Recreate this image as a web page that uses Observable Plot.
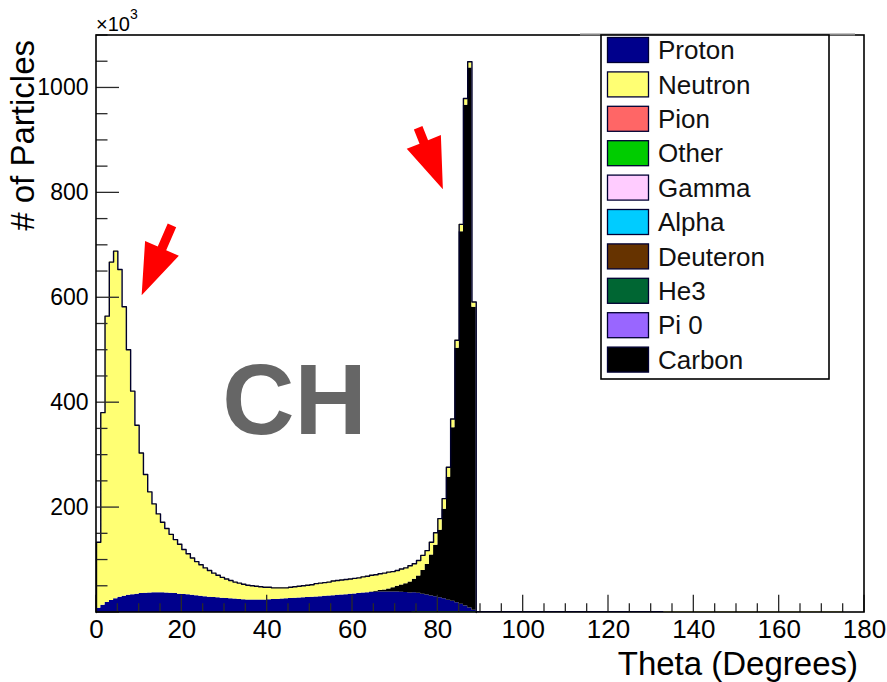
<!DOCTYPE html>
<html>
<head>
<meta charset="utf-8">
<script src="https://cdn.jsdelivr.net/npm/d3@7"></script>
<script src="https://cdn.jsdelivr.net/npm/@observablehq/plot@0.6"></script>
<style>
  html, body { margin: 0; padding: 0; background: #fff; }
  #chart svg { display: block; }
</style>
</head>
<body>
<div id="chart"></div>
<script>
// ---------- data (thousands of particles per 1-degree bin, bins 0..179) ----------
const particles = ["Proton", "Neutron", "Pion", "Other", "Gamma", "Alpha", "Deuteron", "He3", "Pi 0", "Carbon"];
const colors    = ["#00008c", "#ffff73", "#ff6666", "#00cc00", "#ffccff", "#00ccff", "#663300", "#006633", "#9966ff", "#000000"];
const stackOrder = ["Other", "Proton", "Carbon", "Neutron"];

const proton = [
  8, 14, 19, 23, 26, 29, 31, 33, 34, 35,
  36, 36.5, 37, 37.5, 37.5, 37.5, 37, 36.5, 36, 35,
  34.5, 34, 33, 32, 31, 30, 29, 28.5, 28, 27,
  26.5, 26, 25.5, 25, 24.5, 24, 24, 24, 24, 24,
  24.5, 25, 25, 25.5, 26, 26.5, 27, 27.5, 28, 28.5,
  29, 29.5, 30, 31, 31.5, 32, 33, 33.5, 34, 35,
  35.5, 36, 37, 37.5, 38, 38.5, 39, 39, 39, 39,
  39, 38.5, 38, 37, 36, 35, 33.5, 32, 30, 28.5,
  26.5, 24.5, 22, 20, 17, 14, 11, 7, 3, 2,
  2, 2, 2, 2, 2, 2, 2, 2, 2, 2,
  2, 2, 2, 2, 2, 2, 2, 2, 2, 2,
  2, 2, 2, 2, 2, 2, 2, 2, 2, 2,
  2, 2, 2, 2, 2, 2, 2, 2, 2, 2,
  2, 2, 2, 0, 0, 0, 0, 0, 0, 0,
  0, 0, 0, 0, 0, 0, 0, 0, 0, 0,
  0, 0, 0, 0, 0, 0, 0, 0, 0, 0,
  0, 0, 0, 0, 0, 0, 0, 0, 0, 0,
  0, 0, 0, 0, 0, 0, 0, 0, 0, 0
];
const neutron = [
  126, 367, 546, 645, 663, 625, 552, 468, 388, 322,
  268, 226.5, 193, 169.5, 150.5, 134.5, 123, 112.5, 103, 95,
  85.5, 78, 71, 65, 60, 55, 51, 46.5, 43, 40,
  37.5, 35, 32.5, 31, 29.5, 28, 27, 26, 25, 24,
  23.5, 22, 22, 21.5, 21, 21.5, 22, 22.5, 23, 23.5,
  24, 25.5, 26, 26, 26.5, 28, 28, 28.5, 29, 29,
  29.5, 30, 31, 31.5, 32, 31.5, 32, 32, 32, 31,
  30, 30.5, 30, 31, 29.5, 29.5, 29, 26.5, 24.5, 24,
  22, 20, 19, 17, 15, 14, 13, 12, 10, 0,
  0, 0, 0, 0, 0, 0, 0, 0, 0, 0,
  0, 0, 0, 0, 0, 0, 0, 0, 0, 0,
  0, 0, 0, 0, 0, 0, 0, 0, 0, 0,
  0, 0, 0, 0, 0, 0, 0, 0, 0, 0,
  0, 0, 0, 1.5, 1.5, 1.5, 1.5, 1.5, 1.5, 1.5,
  1.5, 1.5, 1.5, 1.5, 1.5, 1.5, 1.5, 1.5, 1.5, 1.5,
  1.5, 1.5, 1.5, 1.5, 1.5, 1.5, 1.5, 1.5, 1.5, 1.5,
  1.5, 1.5, 1.5, 1.5, 1.5, 1.5, 1.5, 1.5, 1.5, 1.5,
  1.5, 1.5, 1.5, 1.5, 1.5, 0, 0, 0, 0, 0
];
const carbon = [
  0, 0, 0, 0, 0, 0, 0, 0, 0, 0,
  0, 0, 0, 0, 0, 0, 0, 0, 0, 0,
  0, 0, 0, 0, 0, 0, 0, 0, 0, 0,
  0, 0, 0, 0, 0, 0, 0, 0, 0, 0,
  0, 0, 0, 0, 0, 0, 0, 0, 0, 0,
  0, 0, 0, 0, 0, 0, 0, 0, 0, 0,
  0, 0, 0, 0, 1, 2, 3, 4, 6, 8,
  11, 14, 17, 21, 26, 33, 45, 58, 78, 98,
  129, 171, 234.5, 330.5, 485.5, 710.5, 954.5, 1029.5, 577.5, 0,
  0, 0, 0, 0, 0, 0, 0, 0, 0, 0,
  0, 0, 0, 0, 0, 0, 0, 0, 0, 0,
  0, 0, 0, 0, 0, 0, 0, 0, 0, 0,
  0, 0, 0, 0, 0, 0, 0, 0, 0, 0,
  0, 0, 0, 0, 0, 0, 0, 0, 0, 0,
  0, 0, 0, 0, 0, 0, 0, 0, 0, 0,
  0, 0, 0, 0, 0, 0, 0, 0, 0, 0,
  0, 0, 0, 0, 0, 0, 0, 0, 0, 0,
  0, 0, 0, 0, 0, 0, 0, 0, 0, 0
];
const other = [
  0, 0, 0, 0, 0, 0, 0, 0, 0, 0,
  0, 0, 0, 0, 0, 0, 0, 0, 0, 0,
  0, 0, 0, 0, 0, 0, 0, 0, 0, 0,
  0, 0, 0, 0, 0, 0, 0, 0, 0, 0,
  0, 0, 0, 0, 0, 0, 0, 0, 0, 0,
  0, 0, 0, 0, 0, 0, 0, 0, 0, 0,
  0, 0, 0, 0, 0, 0, 0, 0, 0, 0,
  0, 0, 0, 0, 1.5, 1.5, 1.5, 1.5, 1.5, 1.5,
  1.5, 1.5, 1.5, 1.5, 1.5, 1.5, 1.5, 1.5, 1.5, 0,
  0, 0, 0, 0, 0, 0, 0, 0, 0, 0,
  0, 0, 0, 0, 0, 0, 0, 0, 0, 0,
  0, 0, 0, 0, 0, 0, 0, 0, 0, 0,
  0, 0, 0, 0, 0, 0, 0, 0, 0, 0,
  0, 0, 0, 0, 0, 0, 0, 0, 0, 0,
  0, 0, 0, 0, 0, 0, 0, 0, 0, 0,
  0, 0, 0, 0, 0, 0, 0, 0, 0, 0,
  0, 0, 0, 0, 0, 0, 0, 0, 0, 0,
  0, 0, 0, 0, 0, 0, 0, 0, 0, 0
];

// axis ticks / labels
const xTickLabels = [0, 20, 40, 60, 80, 100, 120, 140, 160, 180];
const yTickLabels = [200, 400, 600, 800, 1000];
const xMinorStep = 5, yMinorStep = 50;

// annotations (data units)
const annotText = [{text: "CH", x: 46.4, y: 341}];
const arrows = [
  {x1: 17.8, y1: 737, x2: 10.7, y2: 604},
  {x1: 75.5, y1: 923, x2: 81.3, y2: 806}
];

// ---------- build tables ----------
const series = {Proton: proton, Neutron: neutron, Carbon: carbon, Other: other};
const nb = proton.length;
const table = [];
for (const name of stackOrder) {
  const arr = series[name];
  for (let i = 0; i < nb; i++) table.push({x: i, value: arr[i], series: name});
  table.push({x: nb, value: 0, series: name});
}
const total = proton.map((v, i) => v + neutron[i] + carbon[i] + other[i]);
const lastCarbon = 88;
const outline = [{x: 0, y: 0}];
for (let i = 0; i <= lastCarbon; i++) outline.push({x: i, y: total[i]});
outline.push({x: lastCarbon + 1, y: 0});

const FONT = "'Liberation Sans', Arial, Helvetica, sans-serif";

const chart = Plot.plot({
  width: 887,
  height: 682,
  marginLeft: 96,
  marginRight: 23,
  marginTop: 35,
  marginBottom: 70,
  x: {domain: [0, 180], axis: null},
  y: {domain: [0, 1100], axis: null},
  color: {domain: particles, range: colors},
  style: {fontFamily: FONT, background: "#fff", overflow: "visible"},
  marks: [
    Plot.areaY(table, {x: "x", y: "value", z: "series", fill: "series", curve: "step-after", order: stackOrder}),
    Plot.line(outline, {x: "x", y: "y", curve: "step-after", stroke: "#00002a", strokeWidth: 1.4}),
    Plot.text(xTickLabels, {x: d => d, frameAnchor: "bottom", lineAnchor: "top", dy: 7, text: d => String(d), fontSize: 26, fill: "#000"}),
    Plot.text(yTickLabels, {y: d => d, frameAnchor: "left", textAnchor: "end", dx: -8, text: d => String(d), fontSize: 23, fill: "#000"}),
    Plot.text(annotText, {x: "x", y: "y", text: "text", fontSize: 100, fontWeight: "bold", fill: "#666", lineAnchor: "bottom"})
  ]
});

document.getElementById("chart").appendChild(chart);

// ---------- ROOT-style decorations using the plot's scales ----------
const svg = d3.select(chart);
const sx = chart.scale("x"), sy = chart.scale("y");
const X = v => sx.apply(v), Y = v => sy.apply(v);
const fLeft = X(0), fRight = X(180), fBottom = Y(0), fTop = Y(1100);

const tg = svg.append("g").attr("stroke", "#2a2a2a").attr("stroke-width", 1.3);
for (let v = 0; v <= 180; v += xMinorStep) {
  const len = v % 20 === 0 ? 17.3 : 8.7;
  tg.append("line").attr("x1", X(v)).attr("x2", X(v)).attr("y1", fBottom).attr("y2", fBottom - len);
}
for (let v = 0; v <= 1100; v += yMinorStep) {
  const len = v % 200 === 0 ? 23 : 11.5;
  tg.append("line").attr("x1", fLeft).attr("x2", fLeft + len).attr("y1", Y(v)).attr("y2", Y(v));
}

// frame
svg.append("rect").attr("x", fLeft).attr("y", fTop).attr("width", fRight - fLeft).attr("height", fBottom - fTop)
  .attr("fill", "none").attr("stroke", "#000").attr("stroke-width", 1.6);

// arrows
const ag = svg.append("g").attr("fill", "#ff0000");
for (const a of arrows) {
  const tx = X(a.x1), ty = Y(a.y1), hx = X(a.x2), hy = Y(a.y2);
  const dx = hx - tx, dy = hy - ty, L = Math.hypot(dx, dy);
  const ux = dx / L, uy = dy / L, px = -uy, py = ux;
  const headLen = 51, headW = 18.4, shaftW = 4.6;
  const bx = hx - ux * headLen, by = hy - uy * headLen;
  const pts = [
    [tx + px * shaftW, ty + py * shaftW],
    [bx + px * shaftW, by + py * shaftW],
    [bx + px * headW, by + py * headW],
    [hx, hy],
    [bx - px * headW, by - py * headW],
    [bx - px * shaftW, by - py * shaftW],
    [tx - px * shaftW, ty - py * shaftW]
  ];
  ag.append("polygon").attr("points", pts.map(p => p.join(",")).join(" "));
}

// axis titles and exponent
const txt = svg.append("g").attr("font-family", FONT).attr("fill", "#000");
txt.append("text").attr("x", 858).attr("y", 675).attr("text-anchor", "end").attr("font-size", 33).text("Theta (Degrees)");
txt.append("text").attr("transform", "translate(34,40) rotate(-90)").attr("text-anchor", "end").attr("font-size", 33).text("# of Particles");
const ex = txt.append("text").attr("x", 96).attr("y", 31).attr("font-size", 20).attr("text-anchor", "start");
ex.append("tspan").text("×10");
ex.append("tspan").attr("dy", -12).attr("font-size", 14).text("3");

// legend
svg.append("line").attr("x1", 580).attr("x2", 855).attr("y1", 34.5).attr("y2", 34.5).attr("stroke", "#888").attr("stroke-width", 2);
const lg = svg.append("g").attr("font-family", FONT).attr("text-anchor", "start");
lg.append("rect").attr("x", 601).attr("y", 35).attr("width", 228).attr("height", 344)
  .attr("fill", "#fff").attr("stroke", "#000").attr("stroke-width", 1.6);
particles.forEach((p, i) => {
  const cy = 50 + i * 34.4;
  lg.append("rect").attr("x", 607.5).attr("y", cy - 12.5).attr("width", 41).attr("height", 25)
    .attr("fill", colors[i]).attr("stroke", "#000033").attr("stroke-width", 1.3);
  lg.append("text").attr("x", 658).attr("y", cy).attr("dy", "0.35em").attr("font-size", 26)
    .attr("text-anchor", "start").attr("fill", "#111").text(p);
});
</script>
</body>
</html>
